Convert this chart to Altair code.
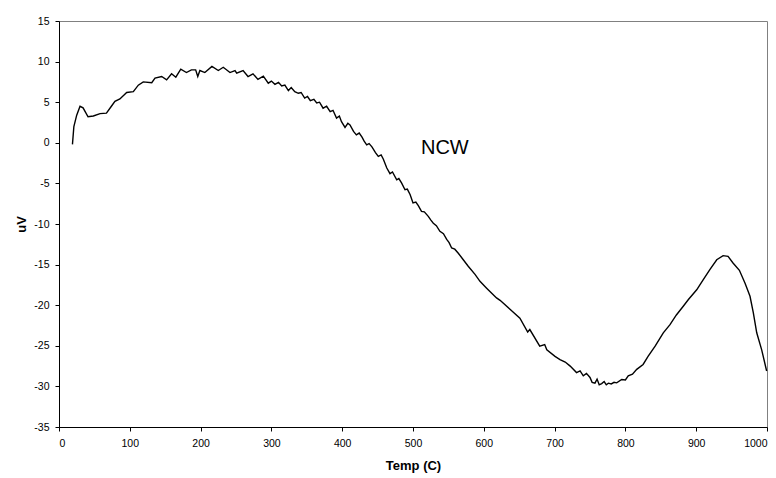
import altair as alt
import pandas as pd

temp = [19, 21, 25, 29.7, 34, 41, 48.5, 58, 67, 74, 79, 86, 95.6, 105, 112, 119, 131, 135.6,
        145, 152, 159, 165, 172, 180, 187, 193, 196, 199, 206, 216, 225, 232, 241.5, 248.6,
        251, 260, 267, 274, 281, 288.6, 295.6, 300, 305, 310, 314.5, 319, 324, 328, 333, 338,
        342, 347, 351, 355, 360, 364, 368, 373, 378, 383, 387, 392, 396, 399, 404, 408, 411,
        416, 420, 424, 428, 431, 434.6, 438, 442, 447, 451, 455, 458, 463, 467.5, 471, 477,
        480, 484, 488.7, 492, 496, 500, 504, 507.5, 512, 516, 521.6, 525, 528.7, 533, 538,
        543, 547.6, 551, 554.6, 559, 564, 571, 578, 587.6, 594.6, 604, 618, 623, 637, 651,
        662, 665, 679, 686, 689, 700.6, 707.6, 715, 722, 731, 736, 740.5, 745, 750, 753, 757,
        760, 763, 766.5, 770, 773, 776, 780, 784, 787.7, 794.8, 800, 804, 810, 816, 825, 832,
        842, 853.5, 863, 872, 882, 889, 900.7, 910, 919.5, 929, 938, 945, 952, 961, 969, 976,
        980.7, 985.5, 992.5, 999.5]
uv = [-0.2, 2.0, 3.4, 4.5, 4.3, 3.2, 3.3, 3.6, 3.65, 4.5, 5.1, 5.4, 6.2, 6.3, 7.1, 7.5, 7.4, 7.96,
      8.16, 7.75, 8.5, 8.08, 9.06, 8.65, 8.98, 8.98, 8.16, 8.9, 8.65, 9.4, 8.9, 9.3, 8.65, 8.9,
      8.57, 8.9, 8.16, 8.5, 7.8, 8.2, 7.34, 7.6, 7.2, 7.45, 7.0, 7.1, 6.43, 6.8, 6.3, 6.1,
      6.2, 5.5, 5.7, 5.2, 5.35, 4.9, 5.0, 4.26, 4.5, 3.85, 4.0, 3.04, 3.3, 2.6, 1.9, 2.4, 2.2,
      1.4, 0.98, 1.2, 0.7, 0.2, -0.25, -0.1, -0.5, -1.2, -1.68, -1.5, -2.0, -3.1, -3.8, -3.6, -4.55,
      -4.4, -4.96, -5.78, -5.7, -6.4, -7.4, -7.3, -7.75, -8.45, -8.5, -9.06, -9.5, -9.9, -10.2, -10.9,
      -11.2, -11.9, -12.3, -12.95, -13.1, -13.6, -14.4, -15.2, -16.2, -17.06, -17.9, -19.1, -19.4, -20.5, -21.6,
      -23.3, -23.0, -25.05, -24.85, -25.5, -26.3, -26.7, -27.0, -27.5, -28.3, -28.1, -28.7, -28.4, -28.9, -29.5, -29.6,
      -29.1, -29.8, -29.65, -29.4, -29.8, -29.6, -29.7, -29.5, -29.56, -29.15, -29.2, -28.7, -28.5, -27.9, -27.3, -26.3,
      -25.05, -23.4, -22.4, -21.2, -20.1, -19.3, -18.1, -16.85, -15.6, -14.4, -13.9, -13.98, -14.8, -15.7, -17.3, -18.9,
      -20.95, -23.4, -25.5, -28.1]

label_text = ["NCW"]
label_x = [545]
label_y = [-0.7]

df = pd.DataFrame({"temp": temp, "uv": uv})
lab = pd.DataFrame({"t": label_text, "x": label_x, "y": label_y})

FONT = "Liberation Sans"

xscale = alt.Scale(domain=[0, 1000], nice=False, zero=False)
yscale = alt.Scale(domain=[-35, 15], nice=False, zero=False)

line = alt.Chart(df).mark_line(color="black", strokeWidth=1.4).encode(
    x=alt.X("temp:Q", scale=xscale,
            axis=alt.Axis(title="Temp (C)", values=list(range(0, 1001, 100)),
                          labelExpr="'' + datum.value",
                          grid=False, domainColor="black", tickColor="black", tickSize=4,
                          labelPadding=7, labelFont=FONT, labelFontSize=10.5, labelColor="black",
                          titleFont=FONT, titleFontSize=13, titleFontWeight="bold", titleColor="black",
                          titleX=354, titleY=38, titleBaseline="middle")),
    y=alt.Y("uv:Q", scale=yscale,
            axis=alt.Axis(title="uV", values=list(range(-35, 16, 5)),
                          labelExpr="'' + datum.value",
                          grid=False, domainColor="black", tickColor="black", tickSize=4,
                          labelPadding=6, labelFont=FONT, labelFontSize=10.5, labelColor="black",
                          titleFont=FONT, titleFontSize=13, titleFontWeight="bold", titleColor="black",
                          titleX=-38, titleY=203, titleBaseline="middle", titleAngle=-90)),
)

text = alt.Chart(lab).mark_text(font=FONT, fontSize=20, color="black", baseline="middle",
                                align="center").encode(
    x=alt.X("x:Q", scale=xscale),
    y=alt.Y("y:Q", scale=yscale),
    text="t:N",
)

chart = alt.layer(line, text).properties(
    width=708, height=406,
    autosize=alt.AutoSizeParams(type="none"),
    padding={"left": 59, "top": 21, "right": 9, "bottom": 51},
    background="white",
).configure_view(stroke="#808080", strokeWidth=1)

chart.save("out.html", embed_options={"renderer": "svg", "actions": False})
